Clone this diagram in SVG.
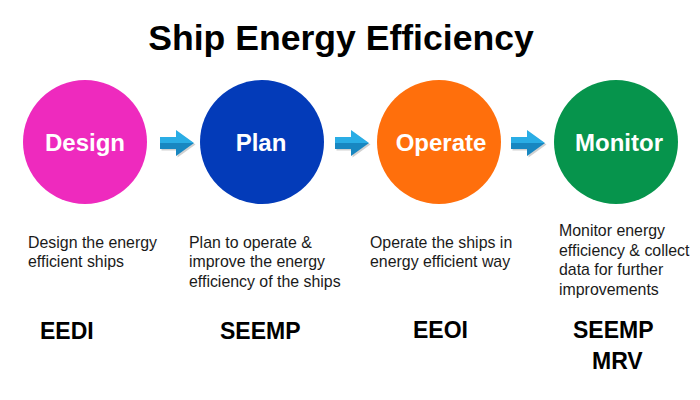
<svg xmlns="http://www.w3.org/2000/svg" width="700" height="400" viewBox="0 0 700 400">
  <style>
    .title { font-family: "Liberation Sans", Arial, sans-serif; font-weight: bold; font-size: 35.6px; fill: #000; }
    .node-label { font-family: "Liberation Sans", Arial, sans-serif; font-weight: bold; font-size: 24px; fill: #fff; }
    .desc { font-family: "Liberation Sans", Arial, sans-serif; font-size: 15.9px; fill: #1a1a1a; }
    .code { font-family: "Liberation Sans", Arial, sans-serif; font-weight: bold; font-size: 23px; fill: #000; }
  </style>
  <defs>
    <g id="arrow">
      <path d="M1.5,-4.5 L17.5,-4.5 L17.5,-11.5 L35.5,1.5 L17.5,14.5 L17.5,7.5 L1.5,7.5 Z" fill="#9a9a9a" opacity="0.45"/>
      <path d="M0,-6 L16,-6 L16,-13 L34,0 L0,0 Z" fill="#2AADE5"/>
      <path d="M0,0 L34,0 L16,13 L16,6 L0,6 Z" fill="#1887C1"/>
    </g>
  </defs>
  <rect width="700" height="400" fill="#fff"/>
  <text class="title" x="341" y="50" text-anchor="middle">Ship Energy Efficiency</text>

  <g id="connectors">
    <use href="#arrow" transform="translate(160,143)"/>
    <use href="#arrow" transform="translate(335,143)"/>
    <use href="#arrow" transform="translate(511,143)"/>
  </g>

  <g id="design">
    <circle cx="85" cy="142" r="62" fill="#EE2ABE"/>
    <text class="node-label" x="85" y="151" text-anchor="middle">Design</text>
    <text class="desc" x="28" y="247.5">Design the energy</text>
    <text class="desc" x="28" y="267">efficient ships</text>
    <text class="code" x="40" y="339">EEDI</text>
  </g>

  <g id="plan">
    <circle cx="262" cy="142" r="62" fill="#033BB9"/>
    <text class="node-label" x="261" y="151" text-anchor="middle">Plan</text>
    <text class="desc" x="189" y="247.5">Plan to operate &amp;</text>
    <text class="desc" x="189" y="267">improve the energy</text>
    <text class="desc" x="189" y="286.5">efficiency of the ships</text>
    <text class="code" x="220" y="339">SEEMP</text>
  </g>

  <g id="operate">
    <circle cx="439" cy="142" r="62" fill="#FF6F0C"/>
    <text class="node-label" x="441" y="151" text-anchor="middle">Operate</text>
    <text class="desc" x="370" y="247.5">Operate the ships in</text>
    <text class="desc" x="370" y="267">energy efficient way</text>
    <text class="code" x="413" y="338">EEOI</text>
  </g>

  <g id="monitor">
    <circle cx="616" cy="142" r="62" fill="#06944C"/>
    <text class="node-label" x="619" y="151" text-anchor="middle">Monitor</text>
    <text class="desc" x="559" y="236">Monitor energy</text>
    <text class="desc" x="559" y="255.5">efficiency &amp; collect</text>
    <text class="desc" x="559" y="275">data for further</text>
    <text class="desc" x="559" y="294.5">improvements</text>
    <text class="code" x="573" y="338">SEEMP</text>
    <text class="code" x="592" y="369">MRV</text>
  </g>
</svg>
